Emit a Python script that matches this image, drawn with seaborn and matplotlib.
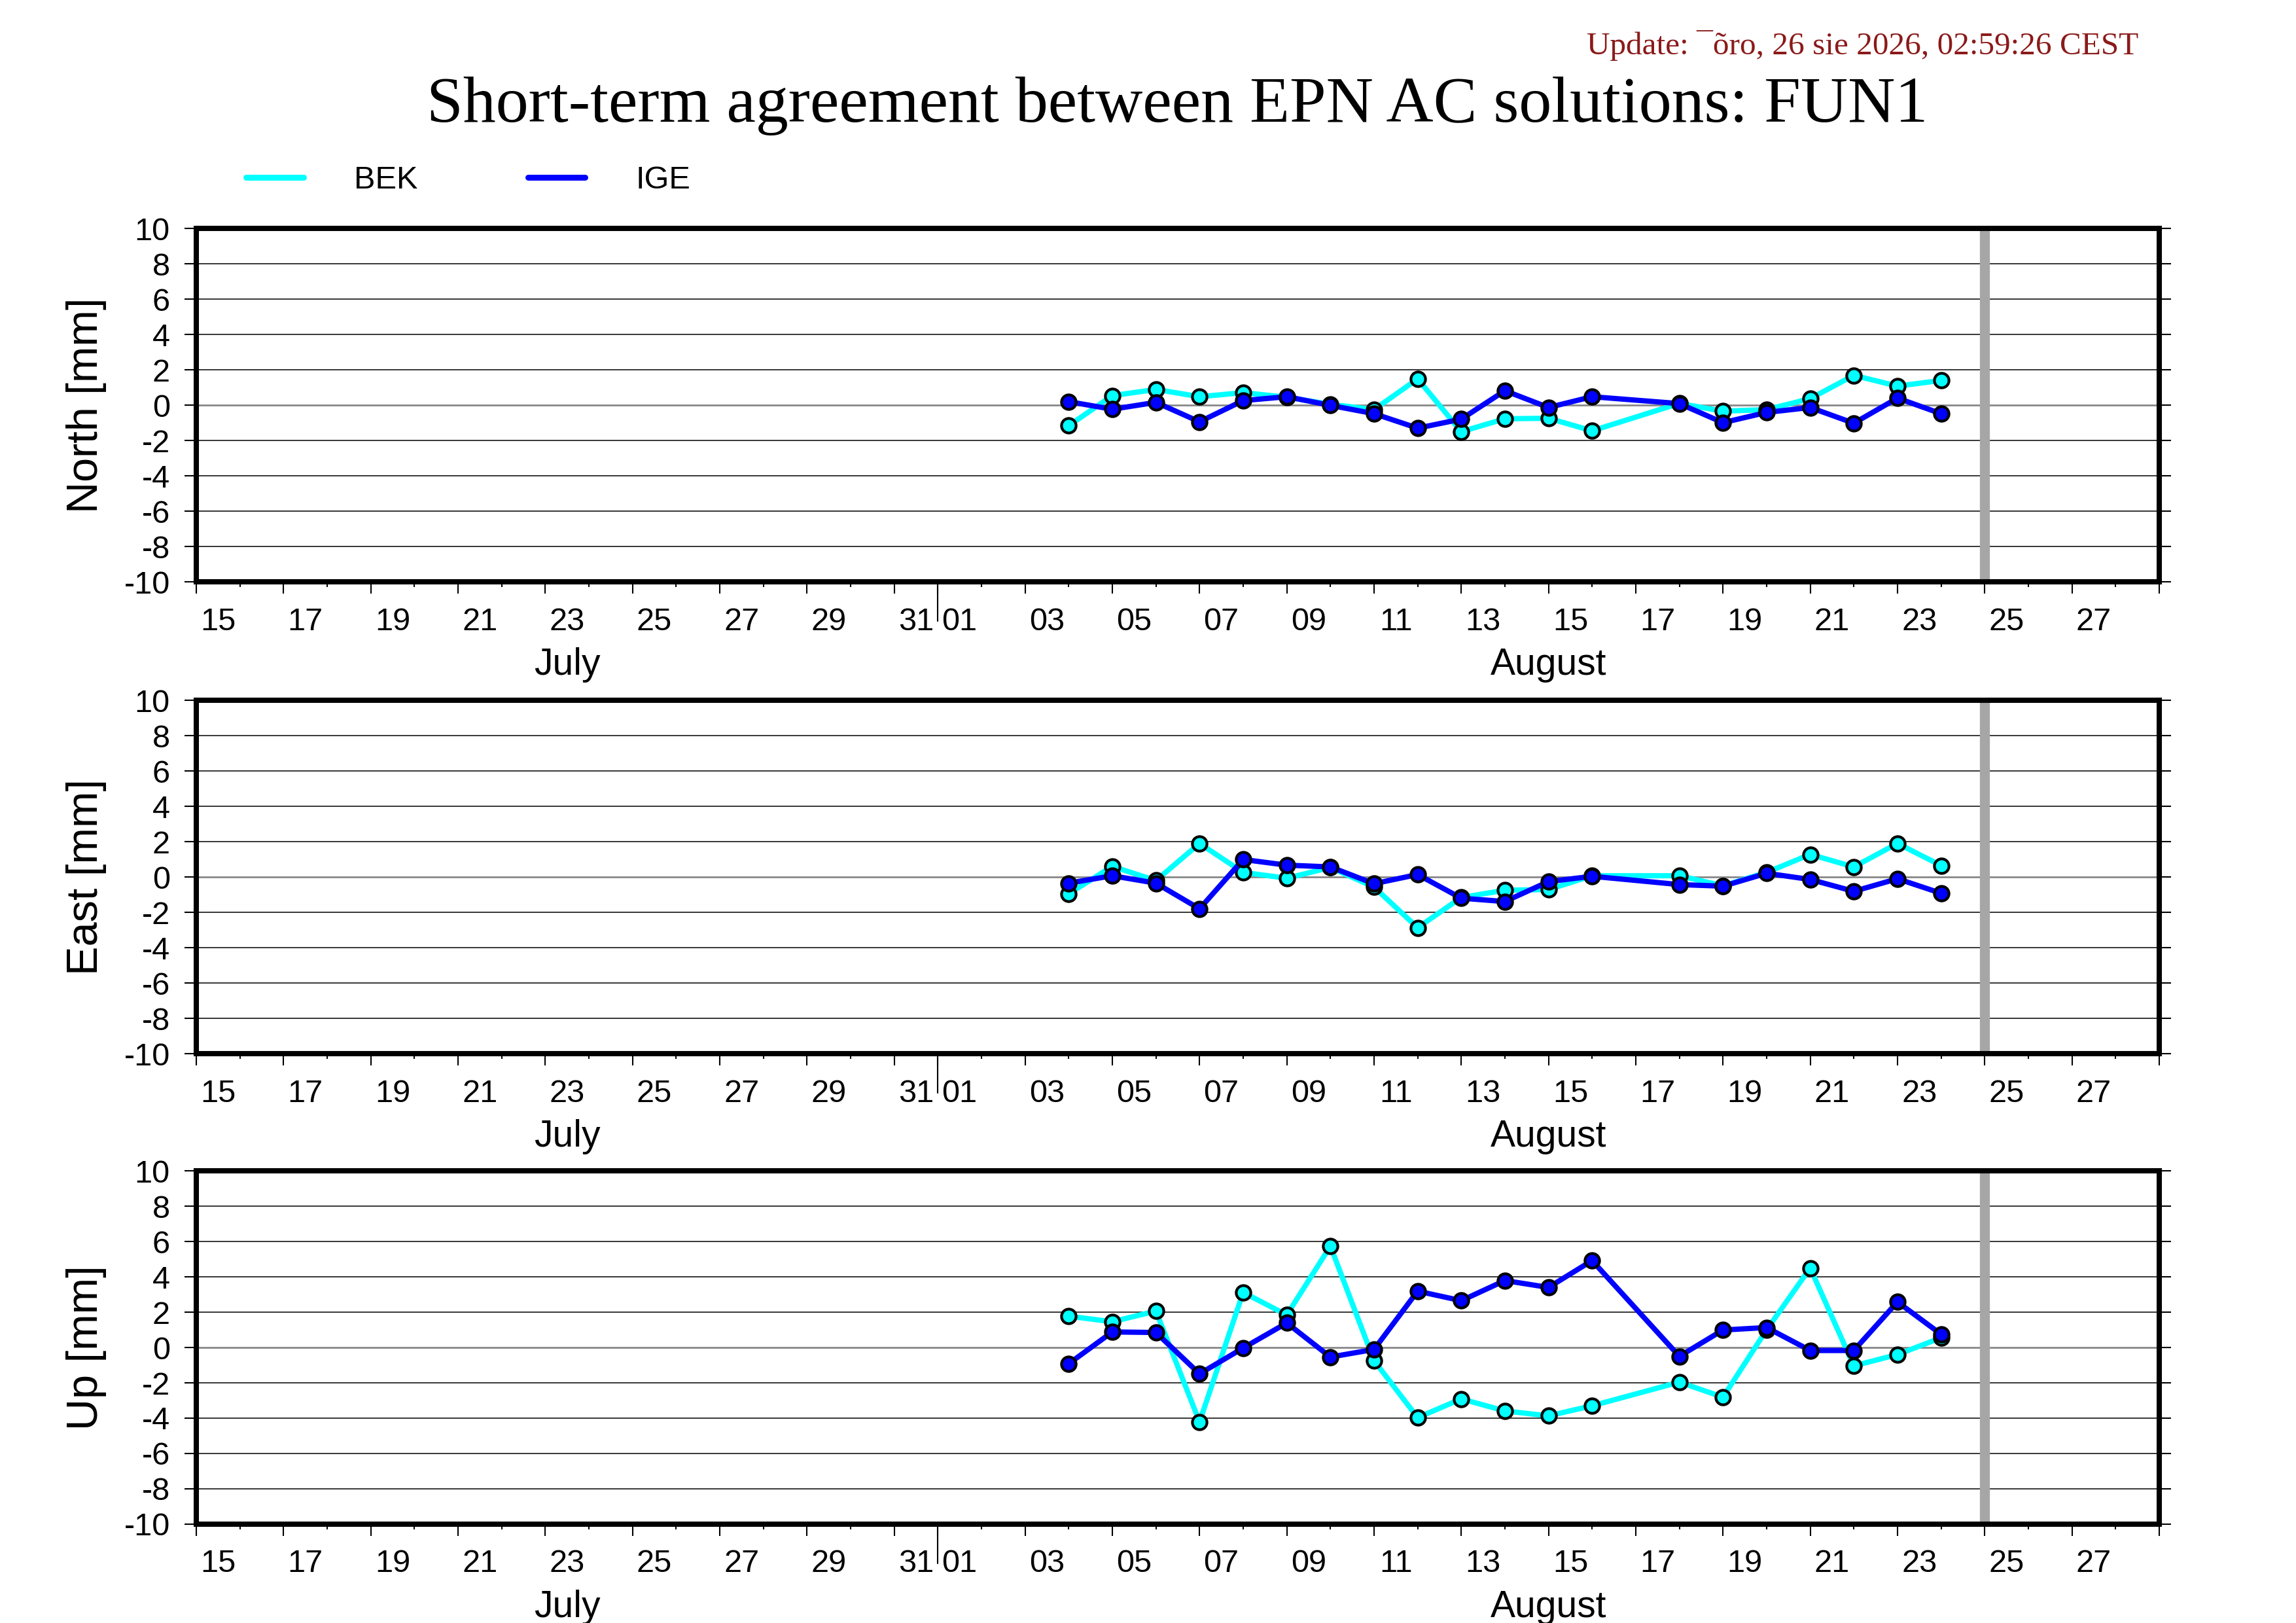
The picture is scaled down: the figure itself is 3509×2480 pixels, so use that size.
import numpy as np
import pandas as pd
import matplotlib.pyplot as plt
import matplotlib.dates as mdates
import matplotlib.transforms as mtransforms
from matplotlib.lines import Line2D
import seaborn as sns

# daily epochs (no solution for Aug 17)
dates = ['2026-08-04', '2026-08-05', '2026-08-06', '2026-08-07', '2026-08-08',
         '2026-08-09', '2026-08-10', '2026-08-11', '2026-08-12', '2026-08-13',
         '2026-08-14', '2026-08-15', '2026-08-16', '2026-08-18', '2026-08-19',
         '2026-08-20', '2026-08-21', '2026-08-22', '2026-08-23', '2026-08-24']

north_bek = [-1.16, 0.54, 0.89, 0.48, 0.71, 0.45, 0.05, -0.25, 1.49, -1.50,
             -0.77, -0.74, -1.45, 0.10, -0.34, -0.25, 0.37, 1.69, 1.08, 1.40]
north_ige = [0.20, -0.23, 0.16, -0.94, 0.26, 0.48, -0.01, -0.48, -1.30, -0.79,
             0.82, -0.13, 0.48, 0.09, -0.99, -0.41, -0.13, -1.02, 0.40, -0.48]

east_bek = [-0.95, 0.60, -0.20, 1.90, 0.26, -0.07, 0.54, -0.57, -2.87, -1.16,
            -0.75, -0.71, 0.07, 0.07, -0.50, 0.26, 1.28, 0.57, 1.90, 0.65]
east_ige = [-0.35, 0.07, -0.35, -1.80, 0.99, 0.67, 0.57, -0.38, 0.14, -1.20,
            -1.39, -0.26, 0.04, -0.43, -0.52, 0.21, -0.14, -0.81, -0.10, -0.92]

up_bek = [1.77, 1.46, 2.06, -4.21, 3.12, 1.84, 5.74, -0.74, -3.97, -2.91,
          -3.59, -3.87, -3.30, -1.96, -2.81, 1.00, 4.50, -1.04, -0.40, 0.55]
up_ige = [-0.92, 0.88, 0.85, -1.49, -0.03, 1.39, -0.54, -0.11, 3.19, 2.65,
          3.79, 3.40, 4.92, -0.50, 0.99, 1.13, -0.17, -0.17, 2.58, 0.75]

components = ['North', 'East', 'Up']
solutions = ['BEK', 'IGE']
colors = {'BEK': '#00FFFF', 'IGE': '#0000FF'}

series = {
    ('North', 'BEK'): north_bek, ('North', 'IGE'): north_ige,
    ('East', 'BEK'): east_bek, ('East', 'IGE'): east_ige,
    ('Up', 'BEK'): up_bek, ('Up', 'IGE'): up_ige,
}
frames = []
for (comp, sol), vals in series.items():
    frames.append(pd.DataFrame({'date': pd.to_datetime(dates), 'component': comp,
                                'solution': sol, 'value': vals}))
df = pd.concat(frames, ignore_index=True)

start = pd.Timestamp('2026-07-15')
end = pd.Timestamp('2026-08-29')
today = pd.Timestamp('2026-08-25')
month_start = pd.Timestamp('2026-08-01')

sns.set_theme(style='white')
plt.rcParams['font.family'] = ['Liberation Sans', 'DejaVu Sans']
plt.rcParams['axes.unicode_minus'] = False
plt.rcParams['text.color'] = 'black'
plt.rcParams['axes.labelcolor'] = 'black'
plt.rcParams['xtick.color'] = 'black'
plt.rcParams['ytick.color'] = 'black'

fig = plt.figure(figsize=(35.09, 24.80), dpi=100)

days = pd.date_range(start, end, freq='D')
odd_days = [d for d in days if d.day % 2 == 1]
even_days = [d for d in days if d.day % 2 == 0]

bottoms = [0.6415, 0.3508, 0.0609]
for comp, bottom in zip(components, bottoms):
    ax = fig.add_axes([0.0855, bottom, 0.8549, 0.2177])

    for y in range(-8, 9, 2):
        if y == 0:
            ax.axhline(y, color='#888888', lw=2.0, zorder=1)
        else:
            ax.axhline(y, color='black', lw=1.1, zorder=1)
    ax.axvline(today, color='#A6A6A6', lw=11, zorder=1)

    sub = df[df['component'] == comp]
    sns.lineplot(data=sub, x='date', y='value', hue='solution', hue_order=solutions,
                 palette=colors, marker='o', markersize=16, markeredgecolor='black',
                 markeredgewidth=3, linewidth=5.8, errorbar=None, legend=False,
                 ax=ax, zorder=3)

    ax.set_xlim(start, end)
    ax.set_ylim(-10, 10)
    ax.set_yticks(range(-10, 11, 2))
    ax.tick_params(axis='y', which='major', direction='out', length=13, width=1.5,
                   labelsize=35, pad=16, left=True, right=True, labelright=False,
                   labelcolor='black')

    ax.set_xticks(mdates.date2num(odd_days))
    ax.set_xticks(mdates.date2num(even_days), minor=True)
    ax.set_xticklabels([])
    ax.tick_params(axis='x', which='major', direction='out', length=13, width=1.5,
                   bottom=True)
    ax.tick_params(axis='x', which='minor', direction='out', length=5.8, width=1.5,
                   bottom=True)
    ax.set_xlabel('')

    trans = mtransforms.blended_transform_factory(ax.transData, ax.transAxes)
    for d in odd_days[:-1]:
        ax.text(d + pd.Timedelta(hours=12), -0.113, f'{d.day:02d}', transform=trans,
                ha='center', va='center', fontsize=35, color='black')
    ax.text(pd.Timestamp('2026-07-23 12:00'), -0.236, 'July', transform=trans,
            ha='center', va='center', fontsize=41, color='black')
    ax.text(pd.Timestamp('2026-08-15'), -0.236, 'August', transform=trans,
            ha='center', va='center', fontsize=41, color='black')
    ax.plot([month_start, month_start], [-0.111, 0], transform=trans, color='black',
            lw=1.5, clip_on=False)

    ax.set_ylabel(f'{comp} [mm]', fontsize=48, va='center', color='black')
    ax.yaxis.set_label_coords(-0.0560, 0.5)

    for spine in ax.spines.values():
        spine.set_linewidth(5.8)
        spine.set_color('black')
        spine.set_zorder(5)

fig.text(0.5128, 0.9345, 'Short-term agreement between EPN AC solutions: FUN1',
         ha='center', va='center', fontsize=72, color='black',
         family=['Liberation Serif', 'DejaVu Serif'])
fig.text(0.9313, 0.972, 'Update: ¯õro, 26 sie 2026, 02:59:26 CEST',
         ha='right', va='center', fontsize=35.5, color='#8B1A1A',
         family=['Liberation Serif', 'DejaVu Serif'])

handles = [Line2D([], [], color=colors[s], lw=6.5) for s in solutions]
fig.legend(handles, solutions, loc='center left', bbox_to_anchor=(0.1072, 0.8891),
           ncol=2, frameon=False, fontsize=35, handlelength=1.8, handletextpad=1.6,
           columnspacing=3.45, borderpad=0, borderaxespad=0)

fig.savefig('out.png', dpi=100)
